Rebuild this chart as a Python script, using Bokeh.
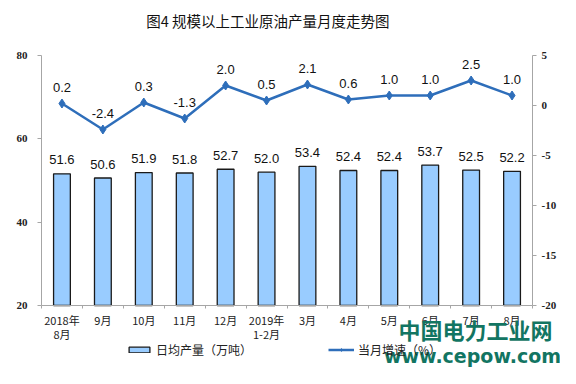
from bokeh.plotting import figure
from bokeh.models import (Range1d, LinearAxis, FixedTicker, ColumnDataSource, LabelSet,
                          Label, Legend, LegendItem)
from bokeh.core.properties import value
from bokeh.embed import file_html
from bokeh.resources import INLINE

# ---- data ----
months = ["2018年\n8月", "9月", "10月", "11月", "12月", "2019年\n1-2月",
          "3月", "4月", "5月", "6月", "7月", "8月"]
output = [51.6, 50.6, 51.9, 51.8, 52.7, 52.0, 53.4, 52.4, 52.4, 53.7, 52.5, 52.2]
growth = [0.2, -2.4, 0.3, -1.3, 2.0, 0.5, 2.1, 0.6, 1.0, 1.0, 2.5, 1.0]
left_ticks = [20, 40, 60, 80]
right_ticks = [-20, -15, -10, -5, 0, 5]
title_text = "图4  规模以上工业原油产量月度走势图"
legend_bar = "日均产量（万吨）"
legend_line = "当月增速（%）"
watermark_cn = "中国电力工业网"
watermark_url = "www.cepow.com"

# ---- layout geometry (pixels of the 560x368 canvas) ----
W, H = 560, 368
PL, PR, PT, PB = 41, 532, 55, 305          # plot-area box
n = len(months)
xs = (PR - PL) / n                          # px per category
ys_l = (PB - PT) / (left_ticks[-1] - left_ticks[0])
ys_r = (PB - PT) / (right_ticks[-1] - right_ticks[0])
x_lo = -0.5 - PL / xs
x_hi = n - 0.5 + (W - PR) / xs
y_lo = left_ticks[0] - (H - PB) / ys_l
y_hi = left_ticks[-1] + PT / ys_l
y2_lo = right_ticks[0] - (H - PB) / ys_r
y2_hi = right_ticks[-1] + PT / ys_r

def xd(px):
    return -0.5 + (px - PL) / xs

def yd(py):
    return left_ticks[-1] - (py - PT) / ys_l

idx = list(range(n))
src = ColumnDataSource(dict(
    x=idx, out=output, gr=growth,
    out_lbl=[f"{v:.1f}" for v in output],
    gr_lbl=[f"{v:.1f}" for v in growth],
))

AXIS_GRAY = "#A6A6A6"
BAR_FILL = "#99CCFF"
LINE_COL = "#2E6EBA"
TXT = "#111111"

p = figure(width=W, height=H, output_backend="svg", toolbar_location=None,
           x_range=Range1d(x_lo, x_hi), y_range=Range1d(y_lo, y_hi),
           min_border_left=0, min_border_right=0, min_border_top=0, min_border_bottom=0)
p.outline_line_color = None
p.xgrid.visible = False
p.ygrid.visible = False
p.background_fill_color = "white"
p.border_fill_color = "white"
p.extra_y_ranges = {"y2": Range1d(y2_lo, y2_hi)}

# bars
bars = p.vbar(x="x", top="out", bottom=left_ticks[0], width=0.41, source=src,
              fill_color=BAR_FILL, line_color="#1A1A1A", line_width=1.3)
# line
ln = p.line(x="x", y="gr", source=src, y_range_name="y2", line_color=LINE_COL, line_width=2.5)
mk = p.scatter(x="x", y="gr", source=src, y_range_name="y2", marker="diamond", size=9,
               fill_color=LINE_COL, line_color=LINE_COL)

# data labels
p.add_layout(LabelSet(x="x", y="out", text="out_lbl", source=src, y_offset=14,
                      text_align="center", text_baseline="middle",
                      text_font=value("Liberation Sans"), text_font_size="13px", text_color=TXT))
p.add_layout(LabelSet(x="x", y="gr", text="gr_lbl", source=src, y_range_name="y2", y_offset=16,
                      text_align="center", text_baseline="middle",
                      text_font=value("Liberation Sans"), text_font_size="13px", text_color=TXT))

# x axis (fixed inside the canvas at y = 20)
xa = p.xaxis[0]
xa.fixed_location = left_ticks[0]
xa.bounds = (-0.5, n - 0.5)
xa.ticker = FixedTicker(ticks=idx, minor_ticks=[i - 0.5 for i in range(n + 1)])
xa.major_label_overrides = {i: m for i, m in enumerate(months)}
xa.major_tick_out = 0
xa.major_tick_in = 0
xa.minor_tick_out = 3
xa.minor_tick_in = 0
xa.minor_tick_line_color = AXIS_GRAY
xa.axis_line_color = AXIS_GRAY
xa.major_label_text_font = "Noto Sans CJK SC"
xa.major_label_text_font_size = "11px"
xa.major_label_text_color = "#222222"
xa.major_label_standoff = 3
xa.major_label_text_line_height = 0.9

# left axis
ya = p.yaxis[0]
ya.fixed_location = -0.5
ya.bounds = (left_ticks[0], left_ticks[-1])
ya.ticker = FixedTicker(ticks=left_ticks, minor_ticks=[])
ya.major_tick_out = 4
ya.major_tick_in = 0
ya.major_tick_line_color = AXIS_GRAY
ya.axis_line_color = AXIS_GRAY
ya.major_label_text_font = "Liberation Serif"
ya.major_label_text_font_style = "bold"
ya.major_label_text_font_size = "11px"
ya.major_label_text_color = "#222222"
ya.major_label_standoff = 10

# right axis
ra = LinearAxis(y_range_name="y2", ticker=FixedTicker(ticks=right_ticks, minor_ticks=[]))
ra.fixed_location = n - 0.5
ra.bounds = (right_ticks[0], right_ticks[-1])
ra.major_label_overrides = {t: str(t) for t in right_ticks}
ra.major_tick_out = 4
ra.major_tick_in = 0
ra.major_tick_line_color = AXIS_GRAY
ra.axis_line_color = AXIS_GRAY
ra.major_label_text_font = "Liberation Serif"
ra.major_label_text_font_style = "bold"
ra.major_label_text_font_size = "11px"
ra.major_label_text_color = "#222222"
ra.major_label_standoff = 5
p.add_layout(ra, "right")

# title
p.add_layout(Label(x=xd(269), y=yd(20), text=title_text, text_align="center", text_baseline="middle",
                   text_font="Noto Sans CJK SC", text_font_size="14.5px", text_color=TXT))

# legend
legend = Legend(items=[LegendItem(label=legend_bar, renderers=[bars]),
                       LegendItem(label=legend_line, renderers=[ln, mk])],
                orientation="horizontal", location=(126, 10),
                padding=0, margin=0, spacing=76, label_standoff=4,
                glyph_width=26, glyph_height=7,
                label_text_font="Noto Sans CJK SC", label_text_font_size="12px",
                label_text_color="#222222",
                border_line_color=None, background_fill_alpha=0)
p.add_layout(legend, "center")

# watermark
WM = "#127562"
p.add_layout(Label(x=xd(475), y=yd(328), text=watermark_cn, text_align="center", text_baseline="middle",
                   text_font="Noto Sans CJK SC", text_font_style="bold", text_font_size="22px",
                   text_color=WM))
p.add_layout(Label(x=xd(472), y=yd(355), text=watermark_url, text_align="center", text_baseline="middle",
                   text_font="DejaVu Sans", text_font_style="bold", text_font_size="19px",
                   text_color=WM))

open("out.html", "w").write(file_html(p, INLINE))
